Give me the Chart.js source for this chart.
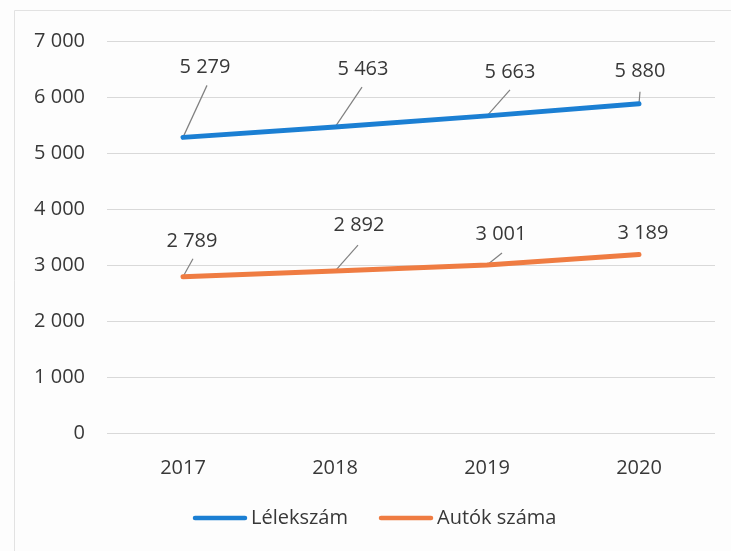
<!DOCTYPE html>
<html><head><meta charset="utf-8">
<script src="https://cdn.jsdelivr.net/npm/chart.js@4/dist/chart.umd.min.js"></script>
<style>html,body{margin:0;padding:0;background:#fdfdfd;}#wrap{position:relative;width:731px;height:551px;}</style>
</head><body><div id="wrap"><canvas id="c" width="731" height="551"></canvas></div>
<script>
const years = ['2017', '2018', '2019', '2020'];
const lelekszam = [5279, 5463, 5663, 5880];
const autokSzama = [2789, 2892, 3001, 3189];
const seriesNames = ['Lélekszám', 'Autók száma'];
const yTickValues = [0, 1000, 2000, 3000, 4000, 5000, 6000, 7000];

// label placement, pixel offsets from each point: [labelDx, labelDy, leaderDx, leaderDy]
const labelOffsets = [
  [[22, -70, 24, -52], [28, -58, 27, -40], [23, -44, 23, -26], [1, -32, 1, -12]],
  [[9, -36, 10, -18], [24, -46, 23, -26], [14, -31, 15, -12], [4, -21, null, null]]
];

const FONT = "'Open Sans', 'DejaVu Sans', sans-serif";
const FS = 20;
const TEXT = '#383838';
const fmt = v => String(v).replace(/\B(?=(\d{3})+(?!\d))/g, ' ');

const labelPlugin = {
  id: 'labels',
  beforeDraw(chart) {
    const ctx = chart.ctx;
    ctx.save();
    ctx.fillStyle = '#fdfdfd';
    ctx.fillRect(0, 0, chart.width, chart.height);
    ctx.strokeStyle = '#e2e2e2';
    ctx.lineWidth = 1;
    ctx.beginPath();
    ctx.moveTo(14.5, chart.height);
    ctx.lineTo(14.5, 10.5);
    ctx.lineTo(chart.width, 10.5);
    ctx.stroke();
    ctx.restore();
  },
  beforeDatasetsDraw(chart) {
    const ctx = chart.ctx;
    ctx.save();
    ctx.strokeStyle = '#808080';
    ctx.lineWidth = 1.2;
    chart.data.datasets.forEach((ds, i) => {
      chart.getDatasetMeta(i).data.forEach((pt, j) => {
        const o = labelOffsets[i][j];
        if (o[2] === null) return;
        ctx.beginPath();
        ctx.moveTo(pt.x, pt.y);
        ctx.lineTo(pt.x + o[2], pt.y + o[3]);
        ctx.stroke();
      });
    });
    ctx.restore();
  },
  afterDatasetsDraw(chart) {
    const ctx = chart.ctx;
    ctx.save();
    ctx.fillStyle = TEXT;
    ctx.font = FS + 'px ' + FONT;
    ctx.textAlign = 'center';
    ctx.textBaseline = 'middle';
    chart.data.datasets.forEach((ds, i) => {
      chart.getDatasetMeta(i).data.forEach((pt, j) => {
        const o = labelOffsets[i][j];
        ctx.fillText(fmt(ds.data[j]), pt.x + o[0], pt.y + o[1]);
      });
    });
    ctx.restore();
  },
  afterDraw(chart) {
    const ctx = chart.ctx;
    ctx.save();
    ctx.font = FS + 'px ' + FONT;
    ctx.textBaseline = 'middle';
    ctx.textAlign = 'left';
    let x = 193;
    const y = 518;
    chart.data.datasets.forEach((ds) => {
      ctx.strokeStyle = ds.borderColor;
      ctx.lineWidth = 4.5;
      ctx.lineCap = 'round';
      ctx.beginPath();
      ctx.moveTo(x + 2, y);
      ctx.lineTo(x + 52, y);
      ctx.stroke();
      ctx.fillStyle = TEXT;
      ctx.fillText(ds.label, x + 58, y);
      x += 58 + ctx.measureText(ds.label).width + 31;
    });
    ctx.restore();
  }
};

new Chart(document.getElementById('c'), {
  type: 'line',
  data: {
    labels: years,
    datasets: [
      { label: seriesNames[0], data: lelekszam, borderColor: '#1b7fd3', backgroundColor: '#1b7fd3' },
      { label: seriesNames[1], data: autokSzama, borderColor: '#ef7c42', backgroundColor: '#ef7c42' }
    ]
  },
  options: {
    responsive: false,
    animation: false,
    devicePixelRatio: 1,
    layout: { padding: { top: 41, right: 16, left: 0, bottom: 0 } },
    elements: {
      line: { borderWidth: 5, tension: 0, borderCapStyle: 'round' },
      point: { radius: 0, hoverRadius: 0 }
    },
    plugins: { legend: { display: false }, tooltip: { enabled: false } },
    scales: {
      x: {
        offset: true,
        grid: { display: false },
        border: { display: false },
        ticks: { color: TEXT, font: { family: FONT, size: FS }, padding: 15 },
        afterFit(s) { s.height = 118; }
      },
      y: {
        min: 0,
        max: 7000,
        afterBuildTicks(s) { s.ticks = yTickValues.map(v => ({ value: v })); },
        grid: { color: '#d9d9d9', lineWidth: 1, drawTicks: false },
        border: { display: false },
        ticks: { color: TEXT, font: { family: FONT, size: FS }, padding: 22, callback: v => fmt(v) },
        afterFit(s) { s.width = 107; }
      }
    }
  },
  plugins: [labelPlugin]
});
</script></body></html>
